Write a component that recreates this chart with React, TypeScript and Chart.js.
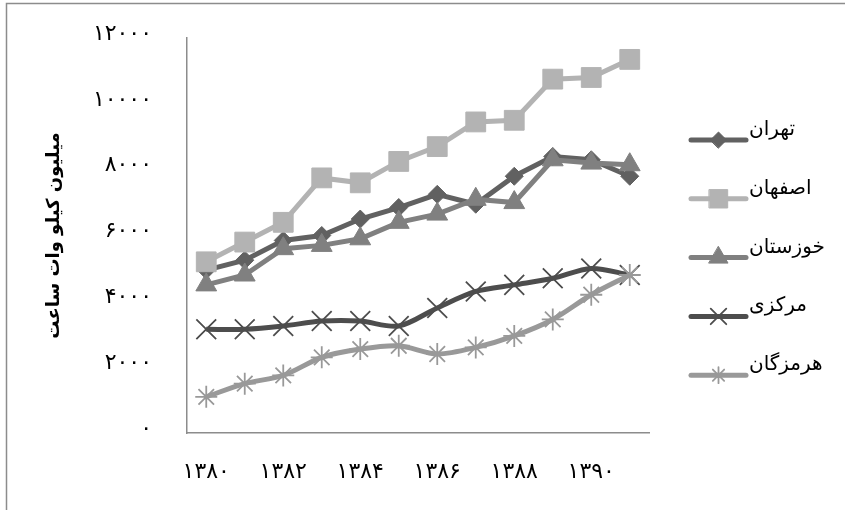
import React, { useEffect, useRef } from "react";
import { Chart, registerables } from "chart.js";
import { drawPoint } from "chart.js/helpers";

Chart.register(...registerables);

const years = ["۱۳۸۰", "۱۳۸۱", "۱۳۸۲", "۱۳۸۳", "۱۳۸۴", "۱۳۸۵", "۱۳۸۶", "۱۳۸۷", "۱۳۸۸", "۱۳۸۹", "۱۳۹۰", "۱۳۹۱"];
const seriesNames = ["تهران", "اصفهان", "خوزستان", "مرکزی", "هرمزگان"];
const tehran = [4950, 5250, 5850, 6000, 6500, 6850, 7250, 6950, 7800, 8400, 8300, 7800];
const esfahan = [5200, 5800, 6400, 7750, 7600, 8250, 8700, 9450, 9500, 10750, 10800, 11350];
const khuzestan = [4500, 4800, 5600, 5700, 5900, 6400, 6650, 7100, 7000, 8300, 8200, 8150];
const markazi = [3150, 3150, 3250, 3400, 3400, 3250, 3800, 4300, 4500, 4700, 5000, 4800];
const hormozgan = [1100, 1500, 1750, 2300, 2550, 2650, 2400, 2600, 2950, 3450, 4200, 4800];
const yTickLabels: Record<number, string> = {
  0: "۰",
  2000: "۲۰۰۰",
  4000: "۴۰۰۰",
  6000: "۶۰۰۰",
  8000: "۸۰۰۰",
  10000: "۱۰۰۰۰",
  12000: "۱۲۰۰۰",
};
const yTitle = "میلیون کیلو وات ساعت";

const FONT = "'DejaVu Sans', sans-serif";

const legendPlugin = {
  id: "customLegend",
  afterDraw(chart: any) {
    const { ctx, chartArea } = chart;
    const x0 = chartArea.right + 42;
    const x1 = x0 + 55;
    chart.data.datasets.forEach((ds: any, i: number) => {
      const y = chartArea.top + 102 + i * 58.8;
      ctx.save();
      ctx.strokeStyle = ds.borderColor;
      ctx.lineWidth = 5;
      ctx.lineCap = "round";
      ctx.beginPath();
      ctx.moveTo(x0, y);
      ctx.lineTo(x1, y);
      ctx.stroke();
      ctx.fillStyle = ds.pointBackgroundColor;
      ctx.strokeStyle = ds.pointBorderColor;
      ctx.lineWidth = ds.pointBorderWidth;
      drawPoint(ctx, { pointStyle: ds.pointStyle, rotation: 0, radius: ds.legendRadius, borderWidth: ds.pointBorderWidth }, (x0 + x1) / 2, y);
      ctx.fillStyle = "#000";
      ctx.font = "20px " + FONT;
      ctx.textAlign = "left";
      ctx.textBaseline = "alphabetic";
      ctx.fillText(ds.label, x1 + 3, y - 5);
      ctx.restore();
    });
  },
};

const framePlugin = {
  id: "frame",
  beforeDraw(chart: any) {
    const { ctx, width, height } = chart;
    ctx.save();
    ctx.fillStyle = "#fff";
    ctx.fillRect(0, 0, width, height);
    ctx.strokeStyle = "#8c8c8c";
    ctx.lineWidth = 1.5;
    ctx.strokeRect(6.5, 3.5, width + 20, height + 20);
    ctx.restore();
  },
};

function mk(label: string, data: number[], color: string, style: string, radius: number, legendRadius: number, filled: boolean, tension: number, order: number) {
  return {
    label,
    data,
    borderColor: color,
    backgroundColor: color,
    borderWidth: 5,
    pointStyle: style,
    pointRadius: radius,
    legendRadius,
    pointBackgroundColor: color,
    pointBorderColor: color,
    pointBorderWidth: filled ? 1 : 1.8,
    tension,
    order,
  };
}

export default function App() {
  const ref = useRef<HTMLCanvasElement>(null);
  useEffect(() => {
    if (!ref.current) return;
    const chart = new Chart(ref.current, {
      type: "line",
      data: {
        labels: years,
        datasets: [
          mk(seriesNames[0], tehran, "#616161", "rectRot", 9, 8, true, 0, 5),
          mk(seriesNames[1], esfahan, "#b3b3b3", "rect", 14, 13, true, 0, 4),
          mk(seriesNames[2], khuzestan, "#808080", "triangle", 12, 11, true, 0, 3),
          mk(seriesNames[3], markazi, "#4d4d4d", "crossRot", 14, 11, false, 0.3, 2),
          mk(seriesNames[4], hormozgan, "#999999", "star", 11, 8, false, 0.3, 1),
        ] as any,
      },
      options: {
        animation: false,
        responsive: true,
        maintainAspectRatio: false,
        layout: { padding: { left: 38, top: 38, right: 196, bottom: 20 } },
        plugins: { legend: { display: false }, tooltip: { enabled: false } },
        scales: {
          x: {
            offset: true,
            grid: { display: false, drawTicks: false },
            border: { display: true, color: "#8c8c8c", width: 1.5 },
            ticks: {
              autoSkip: false,
              maxRotation: 0,
              padding: 26,
              color: "#000",
              font: { family: FONT, size: 22 },
              callback: (_v: any, i: number) => (i % 2 === 0 ? years[i] : ""),
            },
            afterFit: (s: any) => {
              s.height = 57;
              s.paddingLeft = 0;
              s.paddingRight = 0;
            },
          },
          y: {
            min: 0,
            max: 12000,
            grid: { display: false, drawTicks: false },
            border: { display: true, color: "#8c8c8c", width: 1.5 },
            ticks: {
              stepSize: 2000,
              padding: 35,
              labelOffset: -4,
              color: "#000",
              font: { family: FONT, size: 22 },
              callback: (v: any) => yTickLabels[v as number] ?? "",
            },
            title: {
              display: true,
              text: yTitle,
              color: "#000",
              font: { family: FONT, size: 18, weight: "bold" },
              padding: { top: 6, bottom: 0 },
            },
            afterFit: (s: any) => {
              s.width = 149;
              s.paddingTop = 0;
              s.paddingBottom = 0;
            },
          },
        },
      } as any,
      plugins: [framePlugin, legendPlugin],
    });
    return () => chart.destroy();
  }, []);
  return (
    <div style={{ position: "fixed", left: 0, top: 0, width: 845, height: 510, background: "#fff" }}>
      <canvas ref={ref} />
    </div>
  );
}
